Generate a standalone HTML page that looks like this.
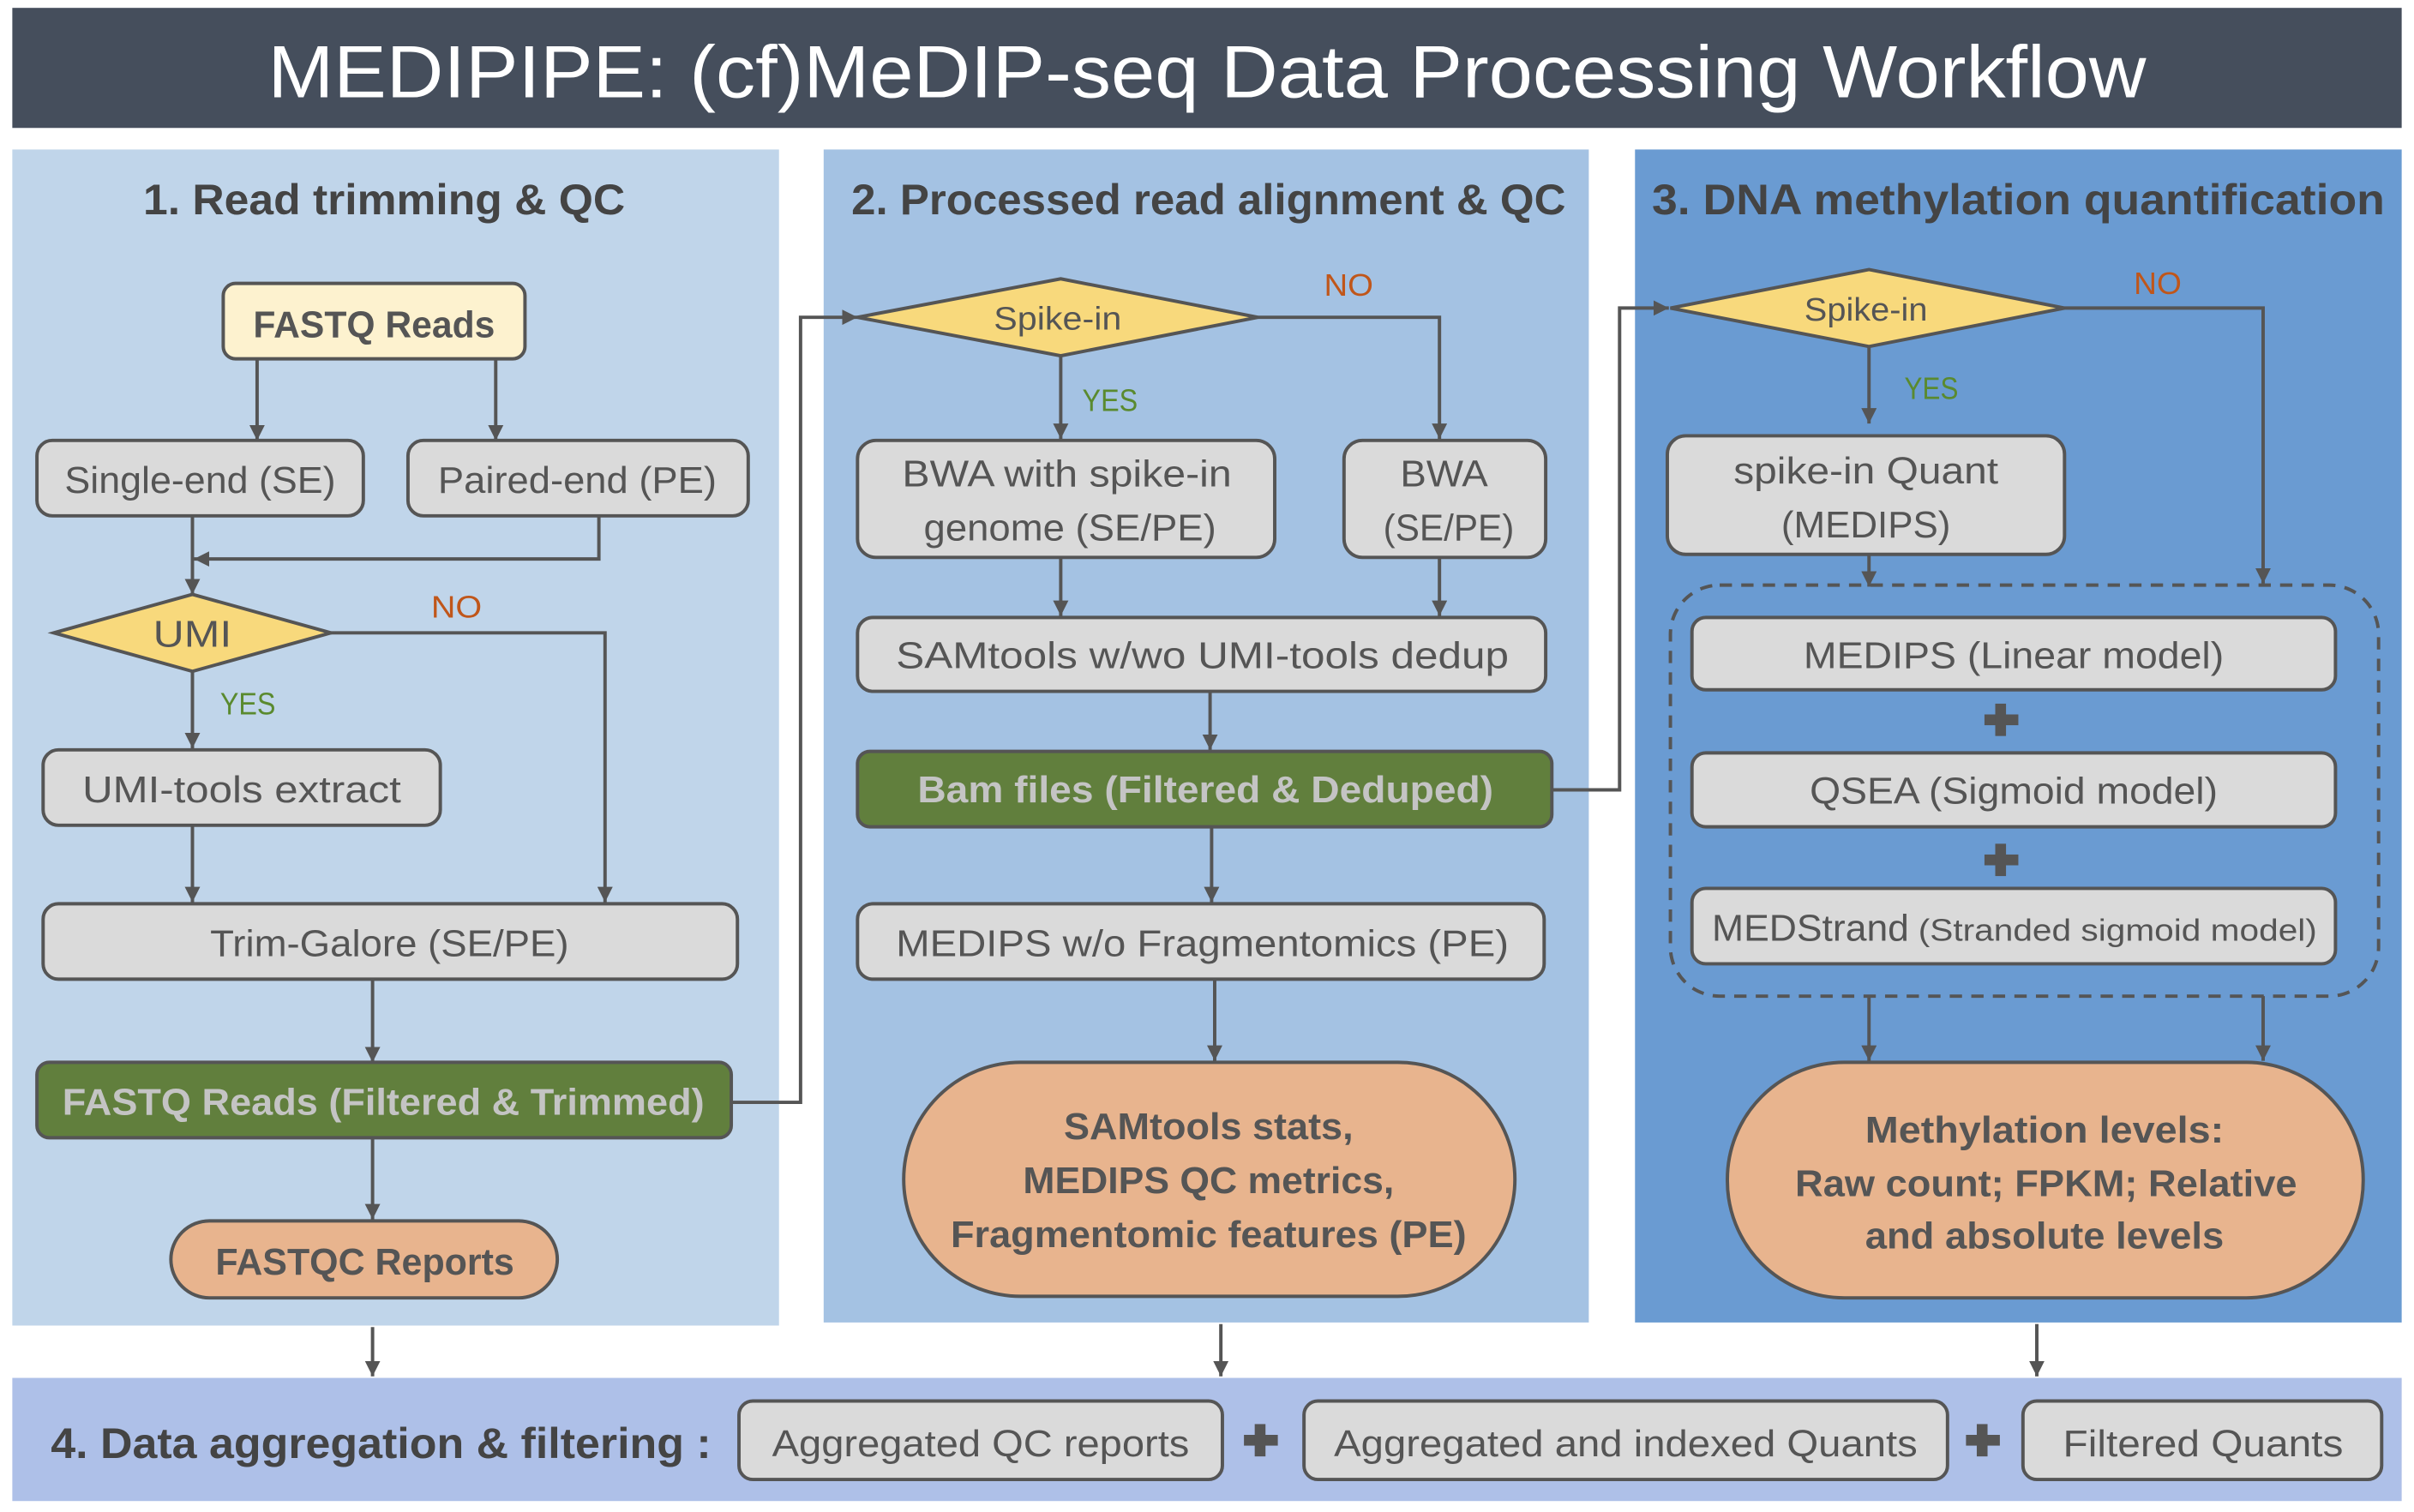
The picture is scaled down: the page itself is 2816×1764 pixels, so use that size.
<!DOCTYPE html>
<html><head><meta charset="utf-8"><style>
html,body{margin:0;padding:0;background:#fff;}
svg{display:block;}
text{font-family:"Liberation Sans",sans-serif;}
</style></head><body>
<svg width="2816" height="1764" viewBox="0 0 1568 982" xmlns="http://www.w3.org/2000/svg">
<defs>
<marker id="a" viewBox="0 0 10 10" refX="10" refY="5" markerWidth="10" markerHeight="10" markerUnits="userSpaceOnUse" orient="auto"><path d="M0,0 L10,5 L0,10 z" fill="#555"/></marker>
</defs>
<rect width="1568" height="982" fill="#fff"/>
<!-- title -->
<rect x="8" y="5" width="1552" height="78" fill="#454e5c"/>
<text x="784" y="63" font-size="48" fill="#fff" text-anchor="middle" textLength="1220" lengthAdjust="spacingAndGlyphs">MEDIPIPE: (cf)MeDIP-seq Data Processing Workflow</text>
<!-- panels -->
<rect x="8" y="97" width="498" height="764" fill="#c0d5ea"/>
<rect x="535" y="97" width="497" height="762" fill="#a4c2e3"/>
<rect x="1062" y="97" width="498" height="762" fill="#6a9bd2"/>
<rect x="8" y="895" width="1552" height="80" fill="#aec0e8"/>
<g font-weight="bold" font-size="28" fill="#444">
<text x="93" y="139" textLength="313" lengthAdjust="spacingAndGlyphs">1. Read trimming &amp; QC</text>
<text x="553" y="139" textLength="464" lengthAdjust="spacingAndGlyphs">2. Processed read alignment &amp; QC</text>
<text x="1073" y="139" textLength="476" lengthAdjust="spacingAndGlyphs">3.  DNA methylation quantification</text>
<text x="33" y="947" textLength="429" lengthAdjust="spacingAndGlyphs">4. Data aggregation &amp; filtering :</text>
</g>
<!-- connectors -->
<g stroke="#555" stroke-width="2.2" fill="none">
<path d="M167,233 V286" marker-end="url(#a)"/>
<path d="M322,233 V286" marker-end="url(#a)"/>
<path d="M125,335 V386" marker-end="url(#a)"/>
<path d="M389,335 V363 H126" marker-end="url(#a)"/>
<path d="M215,411 H393 V586" marker-end="url(#a)"/>
<path d="M125,436 V486" marker-end="url(#a)"/>
<path d="M125,536 V586" marker-end="url(#a)"/>
<path d="M242,636 V690" marker-end="url(#a)"/>
<path d="M242,739 V792" marker-end="url(#a)"/>
<path d="M475,716 H520 V206 H557" marker-end="url(#a)"/>
<path d="M817,206 H935 V285" marker-end="url(#a)"/>
<path d="M689,231 V285" marker-end="url(#a)"/>
<path d="M689,362 V400" marker-end="url(#a)"/>
<path d="M935,362 V400" marker-end="url(#a)"/>
<path d="M786,449 V487" marker-end="url(#a)"/>
<path d="M787,537 V586" marker-end="url(#a)"/>
<path d="M789,636 V689" marker-end="url(#a)"/>
<path d="M1008,513 H1052 V200 H1084" marker-end="url(#a)"/>
<path d="M1341,200 H1470 V379" marker-end="url(#a)"/>
<path d="M1214,225 V275" marker-end="url(#a)"/>
<path d="M1214,360 V381" marker-end="url(#a)"/>
<path d="M1214,647 V689" marker-end="url(#a)"/>
<path d="M1470,647 V689" marker-end="url(#a)"/>
<path d="M242,862 V894" marker-end="url(#a)"/>
<path d="M793,860 V894" marker-end="url(#a)"/>
<path d="M1323,860 V894" marker-end="url(#a)"/>
<rect x="1085" y="380" width="460" height="267" rx="32" stroke-dasharray="8,6"/>
</g>
<!-- nodes -->
<g stroke="#555" stroke-width="2.2">
<rect x="145" y="184" width="196" height="49" rx="8" fill="#fdf2cf"/>
<rect x="24" y="286" width="212" height="49" rx="10" fill="#dadada"/>
<rect x="265" y="286" width="221" height="49" rx="10" fill="#dadada"/>
<polygon points="35,411 125,386 215,411 125,436" fill="#f8d97c"/>
<rect x="28" y="487" width="258" height="49" rx="10" fill="#dadada"/>
<rect x="28" y="587" width="451" height="49" rx="10" fill="#dadada"/>
<rect x="24" y="690" width="451" height="49" rx="8" fill="#617f3d"/>
<rect x="111" y="793" width="251" height="50" rx="25" fill="#e8b48e"/>
<polygon points="557,206 689,181 817,206 689,231" fill="#f8d97c"/>
<rect x="557" y="286" width="271" height="76" rx="12" fill="#dadada"/>
<rect x="873" y="286" width="131" height="76" rx="12" fill="#dadada"/>
<rect x="557" y="401" width="447" height="48" rx="10" fill="#dadada"/>
<rect x="557" y="488" width="451" height="49" rx="8" fill="#617f3d"/>
<rect x="557" y="587" width="446" height="49" rx="10" fill="#dadada"/>
<rect x="587" y="690" width="397" height="152" rx="76" fill="#e8b48e"/>
<polygon points="1085,200 1214,175 1341,200 1214,225" fill="#f8d97c"/>
<rect x="1083" y="283" width="258" height="77" rx="12" fill="#dadada"/>
<rect x="1099" y="401" width="418" height="47" rx="9" fill="#dadada"/>
<rect x="1099" y="489" width="418" height="48" rx="9" fill="#dadada"/>
<rect x="1099" y="577" width="418" height="49" rx="9" fill="#dadada"/>
<rect x="1122" y="690" width="413" height="153" rx="76" fill="#e8b48e"/>
<rect x="480" y="910" width="314" height="51" rx="9" fill="#dadada"/>
<rect x="847" y="910" width="418" height="51" rx="9" fill="#dadada"/>
<rect x="1314" y="910" width="233" height="51" rx="9" fill="#dadada"/>
</g>
<!-- plus signs -->
<g fill="#555">
<rect x="1289" y="464" width="22" height="7"/><rect x="1296" y="457" width="7" height="21"/>
<rect x="1289" y="555" width="22" height="7"/><rect x="1296" y="548" width="7" height="21"/>
<rect x="808" y="932" width="22" height="7"/><rect x="815" y="925" width="7" height="21"/>
<rect x="1277" y="932" width="22" height="7"/><rect x="1284" y="925" width="7" height="21"/>
</g>
<!-- labels -->
<g font-size="20">
<text x="280" y="401" fill="#c0561a" textLength="33" lengthAdjust="spacingAndGlyphs">NO</text>
<text x="143" y="464" fill="#5a8a2f" textLength="36" lengthAdjust="spacingAndGlyphs">YES</text>
<text x="860" y="192" fill="#c0561a" textLength="32" lengthAdjust="spacingAndGlyphs">NO</text>
<text x="703" y="267" fill="#5a8a2f" textLength="36" lengthAdjust="spacingAndGlyphs">YES</text>
<text x="1386" y="191" fill="#c0561a" textLength="31" lengthAdjust="spacingAndGlyphs">NO</text>
<text x="1237" y="259" fill="#5a8a2f" textLength="35" lengthAdjust="spacingAndGlyphs">YES</text>
</g>
<g font-size="24" fill="#555" text-anchor="middle">
<text x="243" y="219" font-weight="bold" textLength="157" lengthAdjust="spacingAndGlyphs">FASTQ Reads</text>
<text x="130" y="320" textLength="176" lengthAdjust="spacingAndGlyphs">Single-end (SE)</text>
<text x="375" y="320" textLength="181" lengthAdjust="spacingAndGlyphs">Paired-end (PE)</text>
<text x="125" y="420" textLength="51" lengthAdjust="spacingAndGlyphs">UMI</text>
<text x="157" y="521" textLength="207" lengthAdjust="spacingAndGlyphs">UMI-tools extract</text>
<text x="253" y="621" textLength="233" lengthAdjust="spacingAndGlyphs">Trim-Galore (SE/PE)</text>
<text x="249" y="724" font-weight="bold" fill="#c4c4c4" textLength="417" lengthAdjust="spacingAndGlyphs">FASTQ Reads (Filtered &amp; Trimmed)</text>
<text x="237" y="828" font-weight="bold" textLength="194" lengthAdjust="spacingAndGlyphs">FASTQC Reports</text>
<text x="687" y="214" font-size="21" textLength="83" lengthAdjust="spacingAndGlyphs">Spike-in</text>
<text x="693" y="316" textLength="214" lengthAdjust="spacingAndGlyphs">BWA with spike-in</text>
<text x="695" y="351" textLength="190" lengthAdjust="spacingAndGlyphs">genome (SE/PE)</text>
<text x="938" y="316" textLength="57" lengthAdjust="spacingAndGlyphs">BWA</text>
<text x="941" y="351" textLength="85" lengthAdjust="spacingAndGlyphs">(SE/PE)</text>
<text x="781" y="434" textLength="398" lengthAdjust="spacingAndGlyphs">SAMtools w/wo UMI-tools dedup</text>
<text x="783" y="521" font-weight="bold" fill="#c4c4c4" textLength="374" lengthAdjust="spacingAndGlyphs">Bam files (Filtered &amp; Deduped)</text>
<text x="781" y="621" textLength="398" lengthAdjust="spacingAndGlyphs">MEDIPS  w/o Fragmentomics (PE)</text>
<text x="785" y="740" font-weight="bold" textLength="188" lengthAdjust="spacingAndGlyphs">SAMtools stats,</text>
<text x="785" y="775" font-weight="bold" textLength="241" lengthAdjust="spacingAndGlyphs">MEDIPS QC metrics,</text>
<text x="785" y="810" font-weight="bold" textLength="335" lengthAdjust="spacingAndGlyphs">Fragmentomic features (PE)</text>
<text x="1212" y="208" font-size="21" textLength="80" lengthAdjust="spacingAndGlyphs">Spike-in</text>
<text x="1212" y="314" textLength="172" lengthAdjust="spacingAndGlyphs">spike-in Quant</text>
<text x="1212" y="349" textLength="110" lengthAdjust="spacingAndGlyphs">(MEDIPS)</text>
<text x="1308" y="434" textLength="273" lengthAdjust="spacingAndGlyphs">MEDIPS (Linear model)</text>
<text x="1308" y="522" textLength="265" lengthAdjust="spacingAndGlyphs">QSEA (Sigmoid model)</text>
<text x="1328" y="742" font-weight="bold" textLength="233" lengthAdjust="spacingAndGlyphs">Methylation levels:</text>
<text x="1329" y="777" font-weight="bold" textLength="326" lengthAdjust="spacingAndGlyphs">Raw count; FPKM; Relative</text>
<text x="1328" y="811" font-weight="bold" textLength="233" lengthAdjust="spacingAndGlyphs">and absolute levels</text>
<text x="637" y="946" textLength="271" lengthAdjust="spacingAndGlyphs">Aggregated QC reports</text>
<text x="1056" y="946" textLength="379" lengthAdjust="spacingAndGlyphs">Aggregated and indexed Quants</text>
<text x="1431" y="946" textLength="182" lengthAdjust="spacingAndGlyphs">Filtered Quants</text>
</g>
<text x="1112" y="611" font-size="24" fill="#555"><tspan textLength="128" lengthAdjust="spacingAndGlyphs">MEDStrand</tspan><tspan x="1246" font-size="20" textLength="259" lengthAdjust="spacingAndGlyphs">(Stranded sigmoid model)</tspan></text>
</svg>
</body></html>
